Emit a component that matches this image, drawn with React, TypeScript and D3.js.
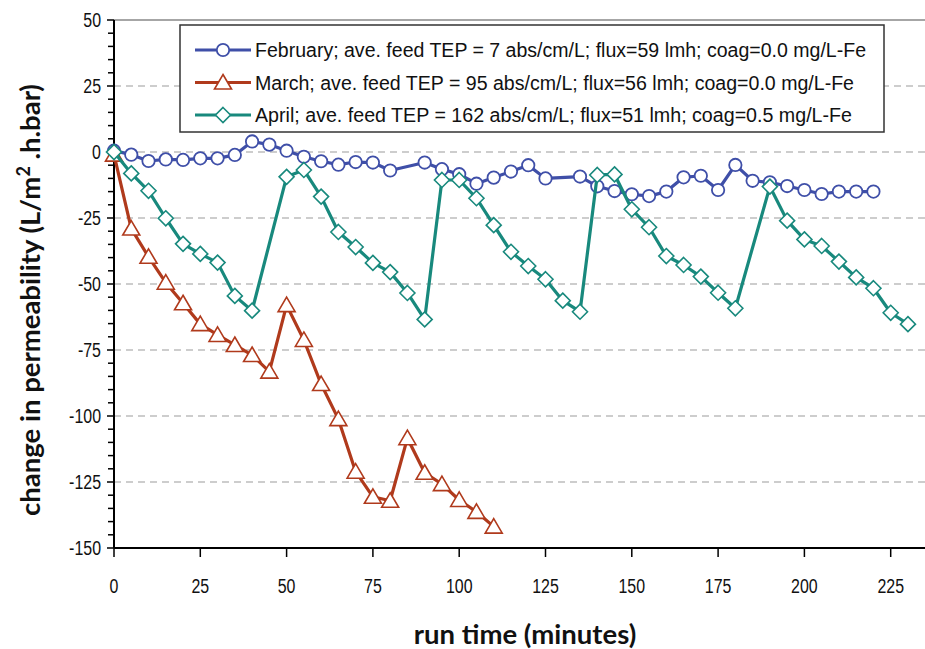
import React from "react";
import * as d3 from "d3";

const febT = [0,5,10,15,20,25,30,35,40,45,50,55,60,65,70,75,80,90,95,100,105,110,115,120,125,135,140,145,150,155,160,165,170,175,180,185,190,195,200,205,210,215,220];
const febV = [0.5,-1,-3.4,-2.8,-3,-2.4,-2.4,-1.1,4,2.8,0.5,-1.8,-3.5,-4.8,-3.8,-4,-7,-4,-6.5,-8.4,-12,-9.7,-7.4,-5,-10,-9.3,-13,-14.8,-16,-16.7,-15,-9.6,-9,-14.4,-4.9,-10.9,-11.5,-12.9,-14.4,-15.9,-15,-15,-15];

const marT = [0,5,10,15,20,25,30,35,40,45,50,55,60,65,70,75,80,85,90,95,100,105,110];
const marV = [-1,-29,-39.7,-49.5,-57.3,-65.2,-69.3,-73.1,-76.9,-83.2,-58,-71.2,-87.9,-101.2,-121.1,-130.6,-132.1,-108.4,-121.5,-125.8,-131.8,-136.3,-141.9];

const aprT = [0,5,10,15,20,25,30,35,40,50,55,60,65,70,75,80,85,90,95,100,105,110,115,120,125,130,135,140,145,150,155,160,165,170,175,180,190,195,200,205,210,215,220,225,230];
const aprV = [0,-8.1,-14.7,-25.1,-34.8,-38.6,-41.9,-54.5,-60.1,-9.4,-6.8,-16.9,-30.3,-36,-42,-45.5,-53.4,-63.4,-10.6,-10.6,-17.5,-27.7,-37.8,-43.2,-48.2,-56.3,-60.5,-8.7,-8.5,-21.7,-28.5,-39.4,-42.8,-47.2,-53.3,-59.2,-13.1,-26,-33.1,-35.6,-41.5,-47.5,-51.6,-60.9,-65.2];

const xTicks = [0,25,50,75,100,125,150,175,200,225];
const yTicks = [50,25,0,-25,-50,-75,-100,-125,-150];
const gridVals = [25,0,-25,-50,-75,-100,-125];

const legendLabels = [
  "February; ave. feed TEP = 7 abs/cm/L; flux=59 lmh; coag=0.0 mg/L-Fe",
  "March; ave. feed TEP = 95 abs/cm/L; flux=56 lmh; coag=0.0 mg/L-Fe",
  "April; ave. feed TEP = 162 abs/cm/L; flux=51 lmh; coag=0.5 mg/L-Fe",
];
const legendWidths = [611, 599, 597];

const BLUE = "#3F4FA8";
const RED = "#B03A1C";
const TEAL = "#18897D";

const W = 925, H = 649;
const x = d3.scaleLinear().domain([0, 225]).range([114, 890.7]);
const y = d3.scaleLinear().domain([-150, 50]).range([548, 20]);

type Pt = { t: number; v: number };
const zip = (ts: number[], vs: number[]): Pt[] => ts.map((t, i) => ({ t, v: vs[i] }));

const line = d3.line<Pt>().x(d => x(d.t)).y(d => y(d.v));

function Marker({ kind, cx, cy, color }: { kind: string; cx: number; cy: number; color: string }) {
  if (kind === "circle") return <circle cx={cx} cy={cy} r={6.2} fill="#fff" stroke={color} strokeWidth={1.8} />;
  if (kind === "tri") {
    const p = `M${cx},${cy - 8}L${cx + 8.5},${cy + 6.5}L${cx - 8.5},${cy + 6.5}Z`;
    return <path d={p} fill="#fff" stroke={color} strokeWidth={1.6} strokeLinejoin="miter" />;
  }
  const p = `M${cx},${cy - 7.5}L${cx + 7.5},${cy}L${cx},${cy + 7.5}L${cx - 7.5},${cy}Z`;
  return <path d={p} fill="#fff" stroke={color} strokeWidth={1.6} />;
}

const series = [
  { data: zip(febT, febV), color: BLUE, kind: "circle" },
  { data: zip(marT, marV), color: RED, kind: "tri" },
  { data: zip(aprT, aprV), color: TEAL, kind: "diamond" },
];

const tickFont = "'Liberation Sans', Arial, sans-serif";
const titleFont = "Lato, 'Open Sans', sans-serif";

function Condensed({ x0, y0, anchor, size, children }: { x0: number; y0: number; anchor: string; size: number; children: React.ReactNode }) {
  return (
    <g transform={`translate(${x0},${y0}) scale(0.76,1)`}>
      <text x={0} y={0} dy="0.35em" textAnchor={anchor} fontFamily={tickFont} fontSize={size} fill="#111">{children}</text>
    </g>
  );
}

export default function App() {
  const minor = d3.range(-150, 50.1, 5);
  return (
    <svg width={W} height={H} style={{ position: "absolute", left: 0, top: 0, background: "#fff" }}>
      <rect x={0} y={0} width={W} height={H} fill="#fff" />
      {gridVals.map(v => (
        <line key={v} x1={x(0)} x2={W} y1={y(v)} y2={y(v)} stroke="#BDBDBD" strokeWidth={1.3} strokeDasharray="7,5" />
      ))}
      <line x1={x(0)} x2={W} y1={y(50)} y2={y(50)} stroke="#888" strokeWidth={1.5} />
      <line x1={x(0)} x2={x(0)} y1={y(50)} y2={y(-150)} stroke="#000" strokeWidth={2} />
      {minor.map(v => (
        <line key={v} x1={x(0) - (v % 25 === 0 ? 7 : 6)} x2={x(0)} y1={y(v)} y2={y(v)} stroke="#000" strokeWidth={1.5} />
      ))}
      {yTicks.map(v => (
        <Condensed key={v} x0={101} y0={y(v)} anchor="end" size={21}>{v}</Condensed>
      ))}
      <line x1={x(0)} x2={W} y1={y(-150)} y2={y(-150)} stroke="#000" strokeWidth={2} />
      {xTicks.map(t => (
        <line key={t} x1={x(t)} x2={x(t)} y1={y(-150)} y2={y(-150) + 9} stroke="#000" strokeWidth={1.5} />
      ))}
      {xTicks.map(t => (
        <Condensed key={t} x0={x(t)} y0={586} anchor="middle" size={21}>{t}</Condensed>
      ))}
      {series.map((s, i) => (
        <g key={i}>
          <path d={line(s.data) || ""} fill="none" stroke={s.color} strokeWidth={3.2} strokeLinejoin="round" />
          {s.data.map((d, j) => (
            <Marker key={j} kind={s.kind} cx={x(d.t)} cy={y(d.v)} color={s.color} />
          ))}
        </g>
      ))}
      <rect x={180} y={25} width={704} height={107} fill="#fff" stroke="#333" strokeWidth={1.5} />
      {legendLabels.map((lab, i) => {
        const ly = 50 + i * 32.5;
        const s = series[i];
        return (
          <g key={i}>
            <line x1={195} x2={251} y1={ly} y2={ly} stroke={s.color} strokeWidth={3.2} />
            <Marker kind={s.kind} cx={223} cy={ly} color={s.color} />
            <text x={255} y={ly} dy="0.35em" fontFamily={tickFont} fontSize={20} fill="#111"
              textLength={legendWidths[i]} lengthAdjust="spacingAndGlyphs">{lab}</text>
          </g>
        );
      })}
      <text x={525} y={634} dy="0.35em" textAnchor="middle" fontFamily={titleFont} fontWeight="bold" fontSize={27.5} fill="#111">run time (minutes)</text>
      <text transform={`translate(30,300) rotate(-90)`} dy="0.35em" textAnchor="middle" fontFamily={titleFont} fontWeight="bold" fontSize={27.5} fill="#111">
        change in permeability (L/m<tspan dy="-10" fontSize={18}>2</tspan><tspan dy="10"> .h.bar)</tspan>
      </text>
    </svg>
  );
}
